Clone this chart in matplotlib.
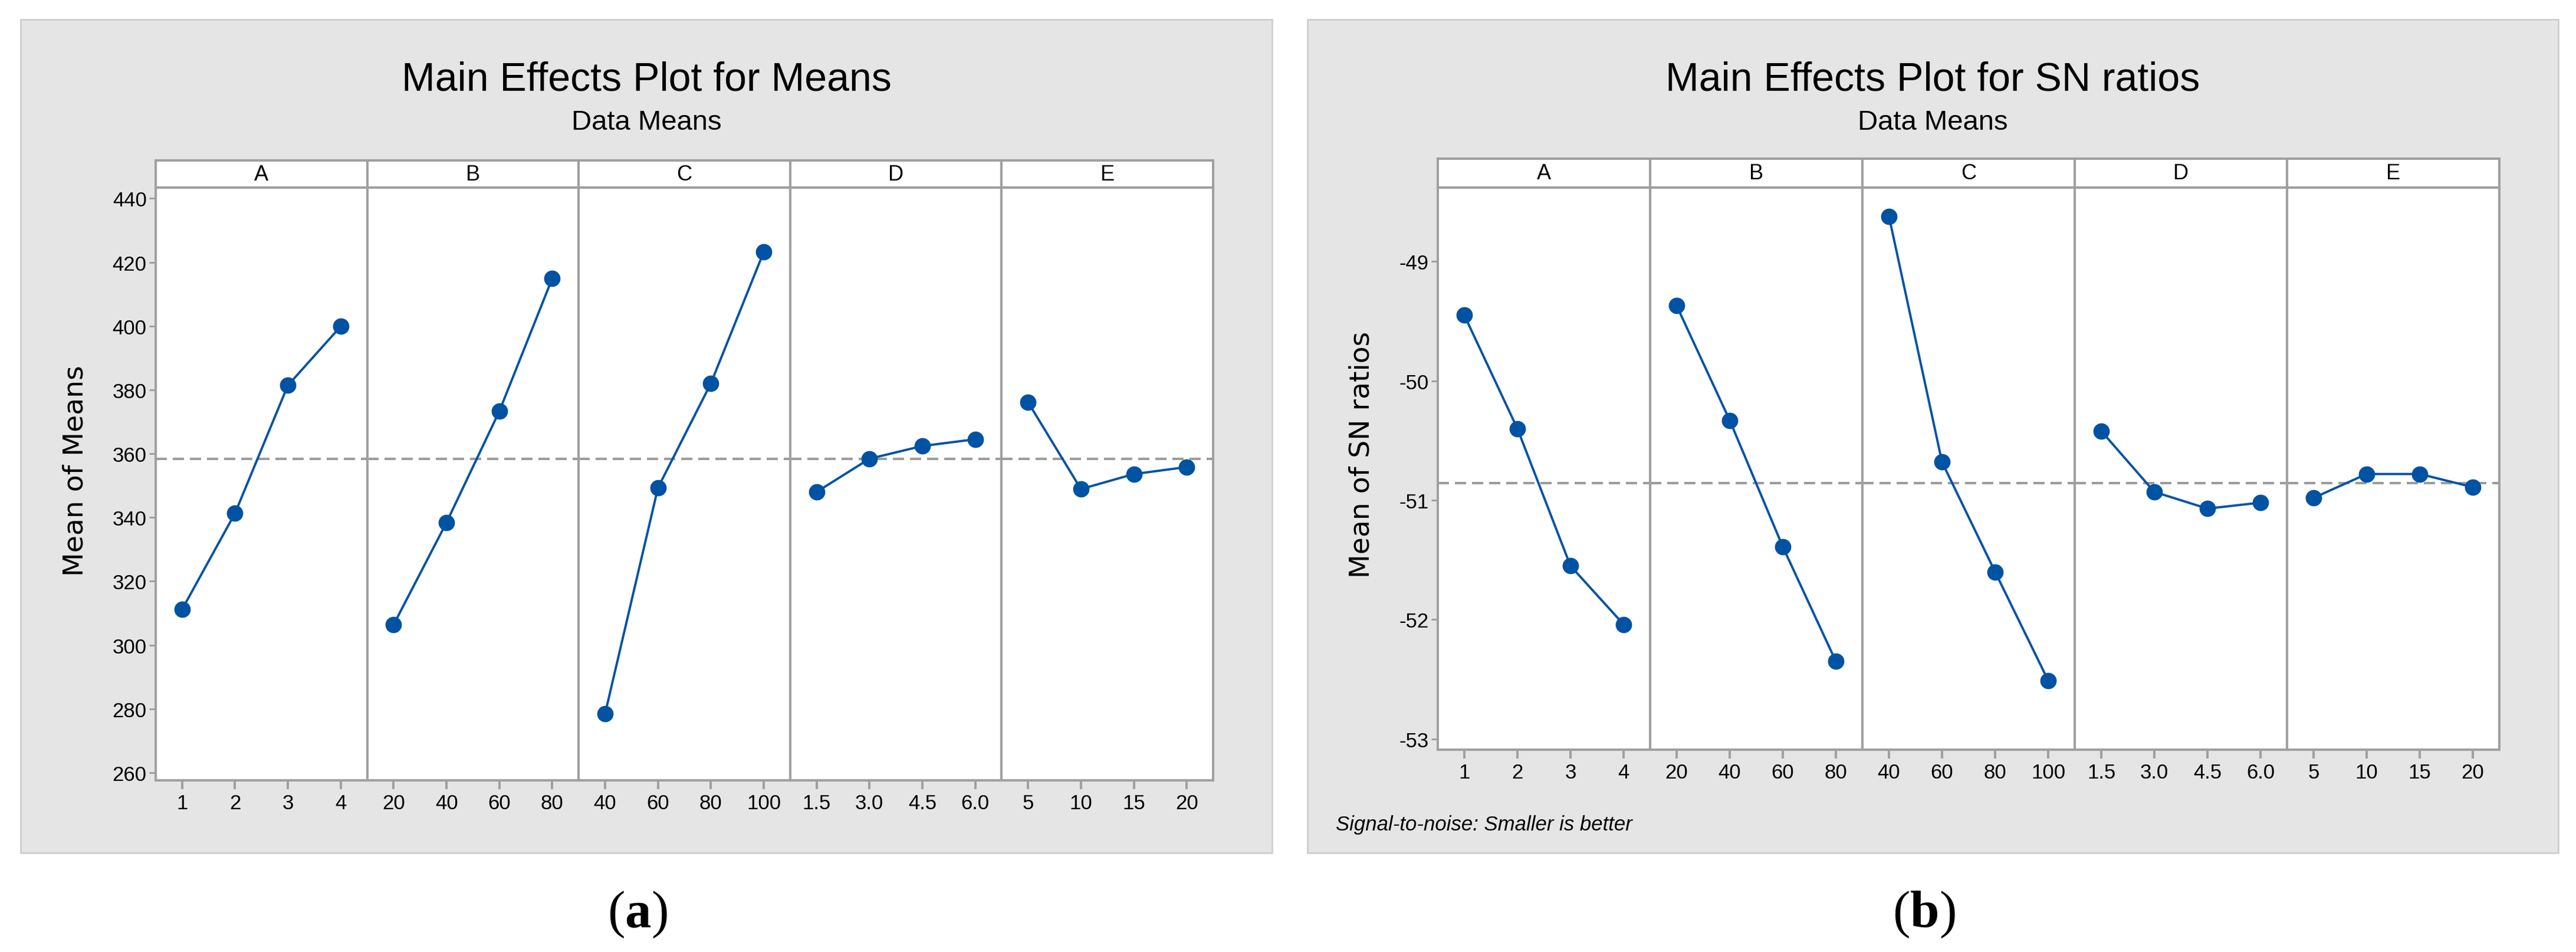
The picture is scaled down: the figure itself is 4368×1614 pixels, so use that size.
import numpy as np
import matplotlib
matplotlib.use('Agg')
import matplotlib.pyplot as plt
from matplotlib.patches import Rectangle

# ── Data ────────────────────────────────────────────────────────────────────
FACTORS = ['A', 'B', 'C', 'D', 'E']
LEVELS = {
    'A': ['1', '2', '3', '4'],
    'B': ['20', '40', '60', '80'],
    'C': ['40', '60', '80', '100'],
    'D': ['1.5', '3.0', '4.5', '6.0'],
    'E': ['5', '10', '15', '20'],
}
means_A = [311.2, 341.3, 381.4, 399.9]
means_B = [306.4, 338.4, 373.3, 414.9]
means_C = [278.5, 349.3, 382.0, 423.2]
means_D = [348.0, 358.4, 362.4, 364.5]
means_E = [376.1, 348.9, 353.6, 355.8]

sn_A = [-49.45, -50.40, -51.55, -52.04]
sn_B = [-49.37, -50.33, -51.39, -52.35]
sn_C = [-48.62, -50.68, -51.60, -52.51]
sn_D = [-50.42, -50.93, -51.07, -51.02]
sn_E = [-50.98, -50.78, -50.78, -50.89]

means_ticks = [260, 280, 300, 320, 340, 360, 380, 400, 420, 440]
sn_ticks = [-53, -52, -51, -50, -49]

MEANS = [means_A, means_B, means_C, means_D, means_E]
SN = [sn_A, sn_B, sn_C, sn_D, sn_E]

# ── Style ───────────────────────────────────────────────────────────────────
W, H = 4368, 1615
DPI = 100
plt.rcParams['font.family'] = ['Liberation Sans', 'DejaVu Sans']
plt.rcParams['axes.unicode_minus'] = False
plt.rcParams['mathtext.fontset'] = 'custom'
plt.rcParams['mathtext.rm'] = 'Liberation Serif'
plt.rcParams['mathtext.bf'] = 'Liberation Serif:bold'

BLUE = '#0052a3'
FRAME = '#a0a0a0'
DASH = '#9b9b9b'
PANEL_BG = '#e5e5e5'
PANEL_EDGE = '#cacaca'


def rect(l, t, r, b):
    return [l / W, 1 - b / H, (r - l) / W, (b - t) / H]


fig = plt.figure(figsize=(W / DPI, H / DPI), dpi=DPI)
fig.patch.set_facecolor('white')


def draw_side(data, ticks, ylim, x0, x1, strip_top, plot_top, plot_bot,
              box, title, ylabel, ylabel_x, tick_fmt):
    bl, bt, br, bb = box
    fig.patches.append(Rectangle((bl / W, 1 - bb / H), (br - bl) / W, (bb - bt) / H,
                                 transform=fig.transFigure, facecolor=PANEL_BG,
                                 edgecolor=PANEL_EDGE, lw=1.8, zorder=-10))
    cx = (bl + br) / 2
    fig.text(cx / W, 1 - 154 / H, title, ha='center', va='baseline', fontsize=49)
    fig.text(cx / W, 1 - 220 / H, 'Data Means', ha='center', va='baseline', fontsize=34)
    fig.text(ylabel_x / W, 1 - ((strip_top + plot_bot) / 2) / H, ylabel,
             rotation=90, ha='center', va='center', fontsize=34, family='DejaVu Sans')

    grand = np.mean([np.mean(v) for v in data])
    pw = (x1 - x0) / 5
    for i, (f, vals) in enumerate(zip(FACTORS, data)):
        l = x0 + i * pw
        r = l + pw
        ax = fig.add_axes(rect(l, plot_top, r, plot_bot))
        ax.set_facecolor('white')
        xs = np.arange(1, 5)
        ax.axhline(grand, color=DASH, lw=2.9, dashes=(4.7, 2.5), zorder=1)
        ax.plot(xs, vals, color=BLUE, lw=2.8, marker='o', ms=19, zorder=3)
        ax.set_xlim(0.5, 4.5)
        ax.set_ylim(*ylim)
        ax.set_xticks(xs)
        ax.set_xticklabels(LEVELS[f], fontsize=25)
        ax.tick_params(axis='x', direction='out', length=11, width=2.9,
                       color=FRAME, pad=5)
        if i == 0:
            ax.set_yticks(ticks)
            ax.set_yticklabels([tick_fmt(t) for t in ticks], fontsize=25)
            ax.tick_params(axis='y', direction='out', length=8, width=2.2,
                           color=FRAME, pad=3)
        else:
            ax.set_yticks([])
        for sp in ax.spines.values():
            sp.set_color(FRAME)
            sp.set_linewidth(2.9)

        sx = fig.add_axes(rect(l, strip_top, r, plot_top))
        sx.set_facecolor('white')
        sx.set_xticks([])
        sx.set_yticks([])
        for sp in sx.spines.values():
            sp.set_color(FRAME)
            sp.set_linewidth(2.9)
        sx.text(0.5, 0.5, f, transform=sx.transAxes, ha='center', va='center',
                fontsize=26)


# (a) Means
draw_side(MEANS, means_ticks, (257.6, 443.4), 264, 2057, 273, 319, 1324,
          (35, 34, 2157, 1447), 'Main Effects Plot for Means', 'Mean of Means',
          128, lambda t: f'{t:d}')

# (b) SN ratios
draw_side(SN, sn_ticks, (-53.09, -48.38), 2438, 4238, 270, 319, 1272,
          (2217, 34, 4338, 1447), 'Main Effects Plot for SN ratios',
          'Mean of SN ratios', 2309, lambda t: f'{t:d}')

fig.text(2265 / W, 1 - 1408 / H, 'Signal-to-noise: Smaller is better',
         ha='left', va='baseline', fontsize=25, style='italic')

fig.text(1081 / W, 1 - 1551 / H, r'($\mathbf{a}$)', ha='center', va='center',
         fontsize=64, family='Liberation Serif')
fig.text(3262 / W, 1 - 1551 / H, r'($\mathbf{b}$)', ha='center', va='center',
         fontsize=64, family='Liberation Serif')

fig.savefig('out.png', dpi=DPI, facecolor='white')
